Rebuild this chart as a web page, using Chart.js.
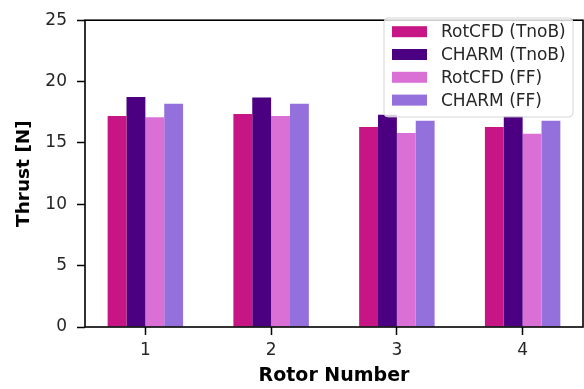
<!DOCTYPE html>
<html>
<head>
<meta charset="utf-8">
<script src="https://cdn.jsdelivr.net/npm/chart.js@4.4.1/dist/chart.umd.min.js"></script>
<style>
  html, body { margin: 0; padding: 0; background: #fff; }
  #wrap { width: 584px; height: 389px; }
</style>
</head>
<body>
<div id="wrap"><canvas id="c" width="584" height="389"></canvas></div>
<script>
// Rotor thrust comparison data
const rotors = ['1', '2', '3', '4'];
const rotcfdTnoB = [17.2, 17.35, 16.3, 16.3];
const charmTnoB  = [18.75, 18.7, 17.3, 17.2];
const rotcfdFF   = [17.1, 17.2, 15.8, 15.75];
const charmFF    = [18.2, 18.2, 16.8, 16.8];
const yTicks = [0, 5, 10, 15, 20, 25];

const toPoints = vals => vals.map((v, i) => ({ x: i + 1, y: v }));

const FONT = 'DejaVu Sans';
Chart.defaults.font.family = FONT;

// Axes frame on all four sides
const framePlugin = {
  id: 'frame',
  afterDatasetsDraw(chart) {
    const { ctx, chartArea: a } = chart;
    ctx.save();
    ctx.strokeStyle = '#000';
    ctx.lineWidth = 1.6;
    ctx.strokeRect(a.left, a.top, a.right - a.left, a.bottom - a.top);
    ctx.restore();
  }
};

// Legend box drawn inside the plot, upper right, semi-transparent
const insideLegend = {
  id: 'insideLegend',
  afterDraw(chart) {
    const { ctx } = chart;
    const x0 = 384, y0 = 18, w = 189, h = 99, r = 4;
    ctx.save();
    ctx.beginPath();
    ctx.moveTo(x0 + r, y0);
    ctx.arcTo(x0 + w, y0, x0 + w, y0 + h, r);
    ctx.arcTo(x0 + w, y0 + h, x0, y0 + h, r);
    ctx.arcTo(x0, y0 + h, x0, y0, r);
    ctx.arcTo(x0, y0, x0 + w, y0, r);
    ctx.closePath();
    ctx.fillStyle = 'rgba(255,255,255,0.8)';
    ctx.fill();
    ctx.strokeStyle = 'rgba(204,204,204,0.8)';
    ctx.lineWidth = 1;
    ctx.stroke();
    ctx.font = '17px "' + FONT + '"';
    ctx.textBaseline = 'middle';
    ctx.textAlign = 'left';
    chart.data.datasets.forEach((ds, i) => {
      const cy = 31.7 + i * 22.8;
      ctx.fillStyle = ds.backgroundColor;
      ctx.fillRect(392, cy - 5.5, 35, 11);
      ctx.fillStyle = '#262626';
      ctx.fillText(ds.label, 441, cy + 1);
    });
    ctx.restore();
  }
};

new Chart(document.getElementById('c'), {
  type: 'bar',
  data: {
    datasets: [
      { label: 'RotCFD (TnoB)', data: toPoints(rotcfdTnoB), backgroundColor: '#C71585' },
      { label: 'CHARM (TnoB)',  data: toPoints(charmTnoB),  backgroundColor: '#4B0082' },
      { label: 'RotCFD (FF)',   data: toPoints(rotcfdFF),   backgroundColor: '#DA70D6' },
      { label: 'CHARM (FF)',    data: toPoints(charmFF),    backgroundColor: '#9370DB' }
    ]
  },
  options: {
    responsive: false,
    animation: false,
    events: [],
    categoryPercentage: 0.6,
    barPercentage: 1.0,
    layout: { padding: { top: 11, right: 1, left: 0, bottom: 0 } },
    plugins: { legend: { display: false }, tooltip: { enabled: false } },
    scales: {
      x: {
        type: 'linear',
        offset: false,
        min: 0.52,
        max: 4.48,
        afterBuildTicks: s => { s.ticks = rotors.map((_, i) => ({ value: i + 1 })); },
        afterFit: s => { s.height = 62; s.paddingLeft = 0; s.paddingRight = 0; },
        border: { display: false },
        grid: { display: true, offset: false, drawOnChartArea: false, drawTicks: true, tickLength: 8, tickWidth: 1.5, tickColor: '#000' },
        ticks: {
          autoSkip: false,
          maxRotation: 0,
          padding: 5,
          color: '#262626',
          font: { size: 17 },
          callback: v => rotors[v - 1]
        },
        title: {
          display: true,
          text: 'Rotor Number',
          color: '#000',
          font: { size: 19, weight: 'bold' },
          padding: { top: 0, bottom: 2 }
        }
      },
      y: {
        min: 0,
        max: 25,
        afterBuildTicks: s => { s.ticks = yTicks.map(v => ({ value: v })); },
        afterFit: s => { s.width = 85; },
        border: { display: false },
        grid: { display: true, drawOnChartArea: false, drawTicks: true, tickLength: 8, tickWidth: 1.5, tickColor: '#000' },
        ticks: {
          padding: 10,
          color: '#262626',
          font: { size: 17 }
        },
        title: {
          display: true,
          text: 'Thrust [N]',
          color: '#000',
          font: { size: 18.5, weight: 'bold' },
          padding: { top: 13, bottom: 0 }
        }
      }
    }
  },
  plugins: [framePlugin, insideLegend]
});
</script>
</body>
</html>
